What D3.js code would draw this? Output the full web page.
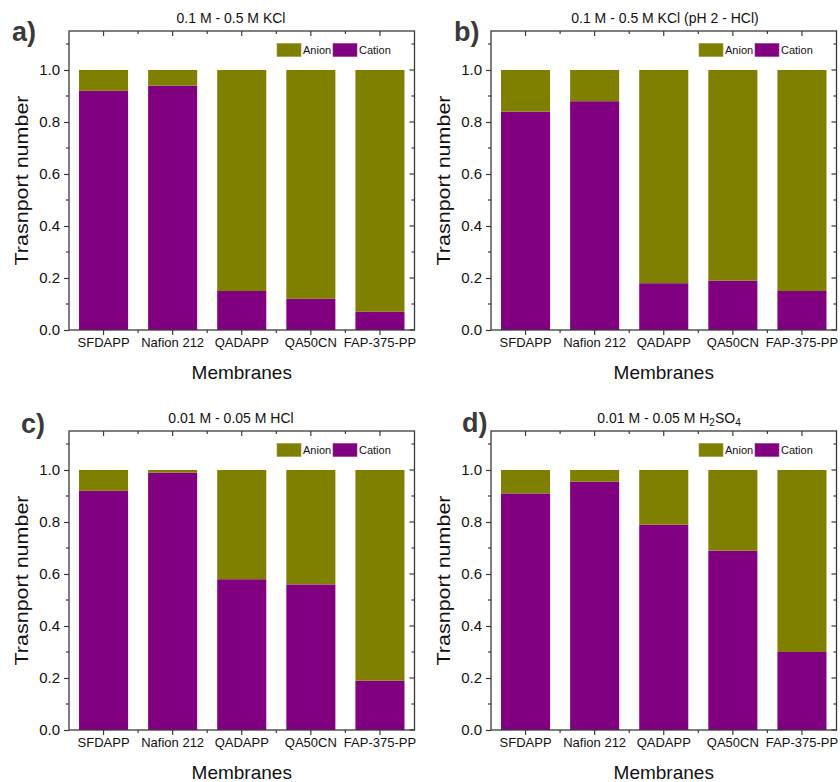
<!DOCTYPE html>
<html>
<head>
<meta charset="utf-8">
<script src="https://cdn.jsdelivr.net/npm/d3@7"></script>
<style>
  html, body { margin: 0; padding: 0; background: #fff; }
  svg { display: block; font-family: "Liberation Sans", Arial, sans-serif; }
</style>
</head>
<body>
<svg id="chart" width="840" height="782"></svg>
<script>
// Membrane categories shared by all four panels
const membranes = ["SFDAPP", "Nafion 212", "QADAPP", "QA50CN", "FAP-375-PP"];

// Cation transport numbers per electrolyte; anion = 1 - cation
const cationKCl     = [0.92, 0.94, 0.15, 0.12, 0.07];
const cationKClpH2  = [0.84, 0.88, 0.18, 0.19, 0.15];
const cationHCl     = [0.92, 0.99, 0.58, 0.56, 0.19];
const cationH2SO4   = [0.91, 0.955, 0.79, 0.69, 0.30];

const yTicks = [0, 0.2, 0.4, 0.6, 0.8, 1.0];
const yMinorTicks = [0.1, 0.3, 0.5, 0.7, 0.9, 1.1];
const seriesNames = ["Anion", "Cation"];

const colAnion = "#808000";
const colCation = "#800080";
const axisCol = "#3a3a3a";

const panels = [
  { letter: "a)", title: ["0.1 M - 0.5 M KCl"], values: cationKCl,
    ox: 0, oy: 0, titleX: 231, letterX: 12, letterY: 41 },
  { letter: "b)", title: ["0.1 M - 0.5 M KCl (pH 2 - HCl)"], values: cationKClpH2,
    ox: 422, oy: 0, titleX: 665, letterX: 454, letterY: 41 },
  { letter: "c)", title: ["0.01 M - 0.05 M HCl"], values: cationHCl,
    ox: 0, oy: 400, titleX: 231, letterX: 21, letterY: 433 },
  { letter: "d)", title: ["0.01 M - 0.05 M H", "2", "SO", "4"], values: cationH2SO4,
    ox: 422, oy: 400, titleX: 669, letterX: 462, letterY: 432 }
];

const svg = d3.select("#chart");

panels.forEach(p => {
  const left = p.ox + 69, width = 345.5;
  const bottom = p.oy + 330, top = p.oy + 31;

  const x = d3.scaleBand().domain(membranes)
    .range([left, left + width]).paddingInner(0.29).paddingOuter(0.145);
  const y = d3.scaleLinear().domain([0, 1.15]).range([bottom, top]);

  const g = svg.append("g");

  // stacked bars: cation at the bottom, anion on top up to 1
  const rows = membranes.map((m, i) => ({ m, cation: p.values[i], anion: 1 - p.values[i] }));
  const stacked = d3.stack().keys(["cation", "anion"])(rows);
  const colors = { cation: colCation, anion: colAnion };

  stacked.forEach(layer => {
    g.append("g").selectAll("rect").data(layer).join("rect")
      .attr("x", d => x(d.data.m))
      .attr("width", x.bandwidth())
      .attr("y", d => y(d[1]))
      .attr("height", d => y(d[0]) - y(d[1]))
      .attr("fill", colors[layer.key]);
  });

  const step = x.step();
  const boundaries = d3.range(1, membranes.length).map(i => left + x.paddingOuter() * step + i * step - (x.paddingInner() * step) / 2);

  // frame
  g.append("rect")
    .attr("x", left).attr("y", top).attr("width", width).attr("height", bottom - top)
    .attr("fill", "none").attr("stroke", axisCol).attr("stroke-width", 1.3);

  // bottom axis (ticks outward)
  const xAxis = g.append("g").attr("transform", `translate(0,${bottom})`)
    .call(d3.axisBottom(x).tickSizeInner(5).tickSizeOuter(0).tickPadding(3));
  xAxis.select(".domain").remove();
  xAxis.selectAll(".tick line").attr("stroke", axisCol).attr("stroke-width", 1.2);
  xAxis.selectAll(".tick text").attr("font-size", 13).attr("fill", "#111")
    .attr("font-family", "Liberation Sans, Arial, sans-serif");
  g.append("g").selectAll("line").data(boundaries).join("line")
    .attr("x1", d => d).attr("x2", d => d).attr("y1", bottom).attr("y2", bottom + 3)
    .attr("stroke", axisCol).attr("stroke-width", 1.2);

  // top mirrored ticks (inward)
  const xTop = g.append("g").attr("transform", `translate(0,${top})`)
    .call(d3.axisBottom(x).tickSizeInner(5).tickSizeOuter(0).tickFormat(""));
  xTop.select(".domain").remove();
  xTop.selectAll(".tick line").attr("stroke", axisCol).attr("stroke-width", 1.2);
  g.append("g").selectAll("line").data(boundaries).join("line")
    .attr("x1", d => d).attr("x2", d => d).attr("y1", top).attr("y2", top + 3)
    .attr("stroke", axisCol).attr("stroke-width", 1.2);

  // left axis (ticks outward)
  const yAxis = g.append("g").attr("transform", `translate(${left},0)`)
    .call(d3.axisLeft(y).tickValues(yTicks).tickFormat(d3.format(".1f"))
      .tickSizeInner(5).tickSizeOuter(0).tickPadding(4));
  yAxis.select(".domain").remove();
  yAxis.selectAll(".tick line").attr("stroke", axisCol).attr("stroke-width", 1.2);
  yAxis.selectAll(".tick text").attr("font-size", 15).attr("fill", "#111")
    .attr("font-family", "Liberation Sans, Arial, sans-serif");
  g.append("g").selectAll("line").data(yMinorTicks).join("line")
    .attr("x1", left - 3).attr("x2", left).attr("y1", d => y(d)).attr("y2", d => y(d))
    .attr("stroke", axisCol).attr("stroke-width", 1.2);

  // right mirrored ticks (inward)
  const right = left + width;
  g.append("g").selectAll("line").data(yTicks).join("line")
    .attr("x1", right - 5).attr("x2", right).attr("y1", d => y(d)).attr("y2", d => y(d))
    .attr("stroke", axisCol).attr("stroke-width", 1.2);
  g.append("g").selectAll("line").data(yMinorTicks).join("line")
    .attr("x1", right - 3).attr("x2", right).attr("y1", d => y(d)).attr("y2", d => y(d))
    .attr("stroke", axisCol).attr("stroke-width", 1.2);

  // axis titles
  g.append("text")
    .attr("x", left + width / 2).attr("y", p.oy + 379)
    .attr("text-anchor", "middle").attr("font-size", 19).attr("fill", "#111")
    .text("Membranes");
  g.append("text")
    .attr("transform", `translate(${p.ox + 28},${(top + bottom) / 2}) rotate(-90)`)
    .attr("text-anchor", "middle").attr("font-size", 19).attr("fill", "#111")
    .attr("textLength", 170).attr("lengthAdjust", "spacingAndGlyphs")
    .text("Trasnport number");

  // panel title (with subscripts where needed)
  const t = g.append("text")
    .attr("x", p.titleX).attr("y", p.oy + 23)
    .attr("text-anchor", "middle").attr("font-size", 14).attr("fill", "#111");
  p.title.forEach((s, i) => {
    const ts = t.append("tspan").text(s);
    if (i % 2 === 1) ts.attr("font-size", 10).attr("dy", 3);
    else if (i > 0) ts.attr("dy", -3);
  });

  // panel letter
  g.append("text")
    .attr("x", p.letterX).attr("y", p.letterY)
    .attr("font-size", 27).attr("font-weight", "bold").attr("fill", "#3a3a3a")
    .text(p.letter);

  // legend
  const legX = right - 137.5, legY = top + 12.5;
  const legColors = [colAnion, colCation];
  const lg = g.append("g");
  seriesNames.forEach((name, i) => {
    const lx = legX + i * 56;
    lg.append("rect").attr("x", lx).attr("y", legY).attr("width", 24).attr("height", 13)
      .attr("fill", legColors[i]).attr("stroke", i === 0 ? "#9a9a30" : "#9a309a").attr("stroke-width", 0.6);
    lg.append("text").attr("x", lx + 26).attr("y", legY + 10.5)
      .attr("font-size", 11).attr("fill", "#111").text(name);
  });
});
</script>
</body>
</html>
